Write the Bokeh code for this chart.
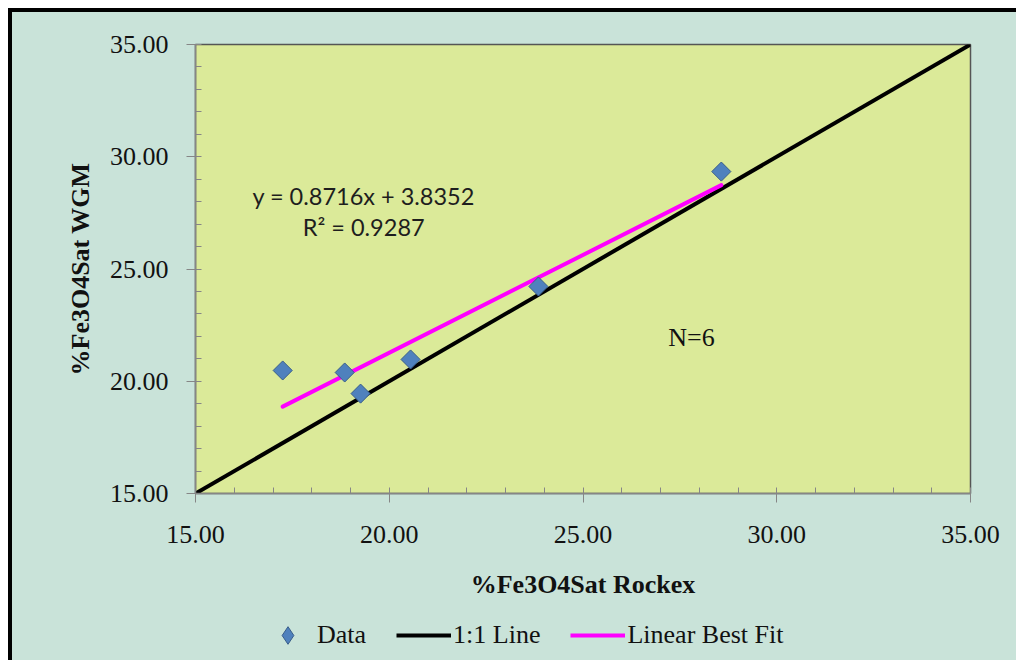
from bokeh.plotting import figure
from bokeh.layouts import column
from bokeh.models import (Range1d, FixedTicker, NumeralTickFormatter, Label,
                          Legend, LegendItem)
from bokeh.embed import file_html
from bokeh.resources import INLINE
import math

# ---- data ----
rockex = [17.25, 18.85, 19.26, 20.55, 23.85, 28.57]
wgm = [20.48, 20.39, 19.45, 20.97, 24.22, 29.34]
one_to_one = [15.0, 35.0]
fit_slope = 0.8716
fit_intercept = 3.8352
major_ticks = [15, 20, 25, 30, 35]
minor_ticks = [16, 17, 18, 19, 21, 22, 23, 24, 26, 27, 28, 29, 31, 32, 33, 34]
eq_text = "y = 0.8716x + 3.8352"
r2_text = "R\u00b2 = 0.9287"
n_text = "N=6"
legend_labels = ["Data", "1:1 Line", "Linear Best Fit"]

fit_x = [min(rockex), max(rockex)]
fit_y = [fit_slope * v + fit_intercept for v in fit_x]

OUTER = "#c9e3d9"
INNER = "#dbea99"
SERIF = "Liberation Serif"
DATA_STYLE = dict(marker="square", size=13.5, angle=math.pi / 4,
                  fill_color="#4f81bd", line_color="#385d8a", line_width=1)
LINE11_STYLE = dict(line_color="black", line_width=4)
FIT_STYLE = dict(line_color="#ff00ff", line_width=4, line_cap="round")

# ---- main chart ----
p = figure(width=1004, height=598, output_backend="svg", toolbar_location=None,
           x_range=Range1d(15, 35), y_range=Range1d(15, 35),
           min_border_left=183, min_border_right=46, min_border_top=32,
           min_border_bottom=117,
           background_fill_color=INNER, border_fill_color=OUTER,
           outline_line_color="#555555", outline_line_width=1.5)
p.grid.visible = False

for ax in (p.xaxis[0], p.yaxis[0]):
    ax.ticker = FixedTicker(ticks=major_ticks, minor_ticks=minor_ticks)
    ax.formatter = NumeralTickFormatter(format="0.00")
    ax.axis_line_color = "#868686"
    ax.axis_line_width = 1.5
    ax.major_tick_line_color = "#868686"
    ax.minor_tick_line_color = "#868686"
    ax.major_tick_in = 6
    ax.major_tick_out = 9
    ax.minor_tick_in = 6
    ax.minor_tick_out = 0
    ax.major_label_text_font = SERIF
    ax.major_label_text_font_size = "26px"
    ax.major_label_text_color = "#111111"
    ax.axis_label_text_font = SERIF
    ax.axis_label_text_font_size = "26px"
    ax.axis_label_text_font_style = "bold"
    ax.axis_label_text_color = "#111111"

p.xaxis.axis_label = "%Fe3O4Sat Rockex"
p.yaxis.axis_label = "%Fe3O4Sat WGM"
p.xaxis.major_label_standoff = 23
p.xaxis.axis_label_standoff = 24
p.yaxis.major_label_standoff = 18
p.yaxis.axis_label_standoff = 12

p.line(one_to_one, one_to_one, **LINE11_STYLE)
p.line(fit_x, fit_y, **FIT_STYLE)
p.scatter(rockex, wgm, **DATA_STYLE)

for txt, yy in ((eq_text, 28.23), (r2_text, 26.85)):
    p.add_layout(Label(x=19.34, y=yy, text=txt, text_align="center",
                       text_baseline="middle", text_font="Lato",
                       text_font_size="23.5px", text_color="#1e1e1e"))
p.add_layout(Label(x=27.8, y=21.95, text=n_text, text_align="center",
                   text_baseline="middle", text_font=SERIF,
                   text_font_size="26px", text_color="#111111"))

# ---- legend strip (same series, ranges chosen so only the legend shows) ----
q = figure(width=1004, height=50, output_backend="svg", toolbar_location=None,
           x_range=Range1d(0, 1), y_range=Range1d(0, 1),
           x_axis_type=None, y_axis_type=None,
           min_border=0, min_border_left=0, min_border_right=0,
           min_border_top=0, min_border_bottom=0,
           background_fill_alpha=0, border_fill_color=OUTER,
           outline_line_color=None)
q.grid.visible = False
lg_data = q.scatter(rockex, wgm, marker="diamond", size=19,
                    fill_color="#4f81bd", line_color="#385d8a", line_width=1)
lg_line = q.line(one_to_one, one_to_one, **LINE11_STYLE)
lg_fit = q.line(fit_x, fit_y, line_color="#ff00ff", line_width=4)
legend = Legend(items=[LegendItem(label=legend_labels[0], renderers=[lg_data]),
                       LegendItem(label=legend_labels[1], renderers=[lg_line]),
                       LegendItem(label=legend_labels[2], renderers=[lg_fit])],
                orientation="horizontal", location=(65, 3),
                background_fill_alpha=0, border_line_alpha=0,
                label_text_font=SERIF, label_text_font_size="26px",
                label_text_color="#111111", glyph_width=55, glyph_height=44,
                label_standoff=2, spacing=30, padding=0, margin=0)
q.add_layout(legend, "center")

inner = column(p, q, spacing=0,
               styles={"border-left": "4px solid black",
                       "border-top": "4px solid black",
                       "background-color": OUTER})
outer = column(inner, spacing=0,
               styles={"border-left": "8px solid white",
                       "border-top": "8px solid white"})

open("out.html", "w").write(file_html(outer, INLINE))
